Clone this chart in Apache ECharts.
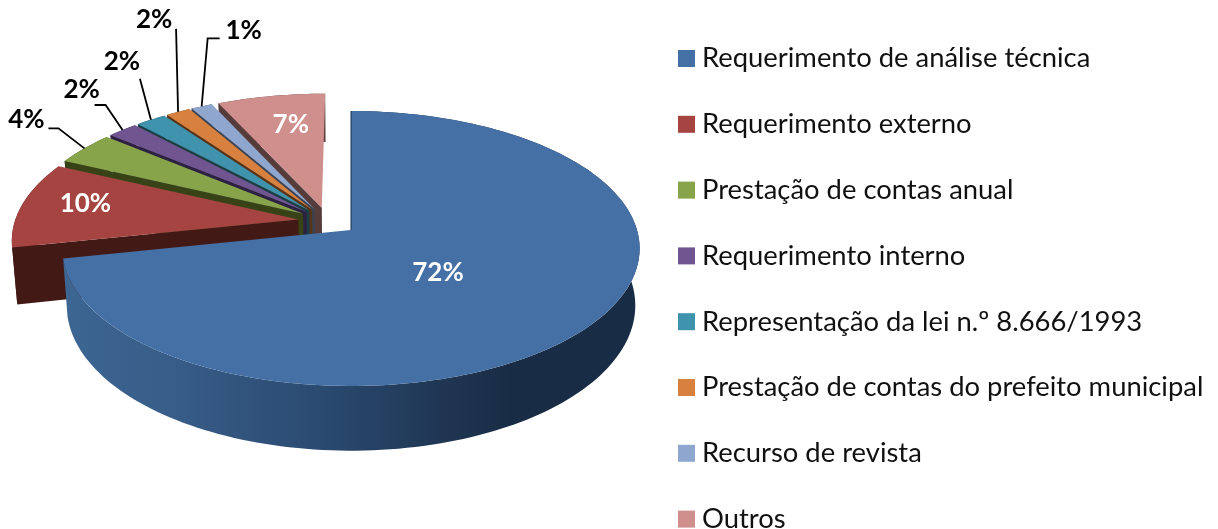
<!DOCTYPE html>
<html><head><meta charset="utf-8">
<style>html,body{margin:0;padding:0;background:#fff}#c{width:1218px;height:529px}</style>
<script src="https://cdn.jsdelivr.net/npm/echarts@6/dist/echarts.min.js"></script>
</head><body><div id="c"></div>
<script>
const categories = ['Requerimento de análise técnica','Requerimento externo','Prestação de contas anual','Requerimento interno','Representação da lei n.º 8.666/1993','Prestação de contas do prefeito municipal','Recurso de revista','Outros'];
const values = [71.7,10.3,4,2,2,1.6,1.4,7];
const colors = ['#4570A5','#A54441','#87A44B','#705591','#3F93AD','#D8813E','#8FA6CE','#CE8F8D'];
const wallColors = ['#1A2D47','#431915','#374317','#2D2040','#1A3D46','#583316','#3A4355','#553C3A'];
const zOrder = [10,9,8,7,6,5,4,3];

// perspective disc
const P = {cx:351, cy:230, A:286, B:135, k:0.1345, explode:0.105, depth:56, shrink:0.985};
const total = values.reduce((a,b)=>a+b,0);
const blueMid = (values[0]/2)/total*2*Math.PI;
const C = [-P.explode*Math.sin(blueMid), P.explode*Math.cos(blueMid)];
function dir(t){return [Math.sin(t),-Math.cos(t)];}
function proj(u,v,low){
  const w = 1-P.k*v;
  let x = P.A*u/w, y = P.B*v/w;
  if(low){ x*=P.shrink; y+=P.depth/w; }
  return [P.cx+x, P.cy+y];
}
// per-slice label placement, px relative to apex (inside) or rim (leader)
const inside = {0:[87,43],1:[-213,-16],7:[-31,-83]};
const leaders = {
  2:{line:[[-26,-20],[-36,-20]],text:[-58,-29]},
  3:{line:[[-17,-25],[-28,-25]],text:[-41,-40]},
  4:{line:[[-11,-41]],text:[-29,-58]},
  5:{line:[[-2,-83]],text:[-24,-92]},
  6:{line:[[6,-68],[18,-68]],text:[42,-76]}
};
const FONT = 'Lato, sans-serif';
function makeRender(i){
  return function(params, api){
    const val = api.value(0);
    let before = 0; for(let j=0;j<i;j++) before+=values[j];
    const t0 = before/total*2*Math.PI, t1 = (before+val)/total*2*Math.PI, mid=(t0+t1)/2;
    const md = dir(mid);
    const ax = C[0]+P.explode*md[0], ay = C[1]+P.explode*md[1];
    const top=[], low=[];
    const n = Math.max(2,Math.ceil((t1-t0)/(Math.PI/120)));
    for(let s=0;s<=n;s++){
      const d = dir(t0+(t1-t0)*s/n);
      top.push(proj(ax+d[0],ay+d[1],false));
      low.push(proj(ax+d[0],ay+d[1],true));
    }
    const apexT = proj(ax,ay,false), apexL = proj(ax,ay,true);
    const ch = [];
    const wallFill = i===0 ? {type:'linear',x:0,y:0,x2:1,y2:0,colorStops:[
      {offset:0,color:'#3D6693'},{offset:0.2,color:'#375C87'},{offset:0.45,color:'#2A4A70'},{offset:0.68,color:'#1E3450'},{offset:0.78,color:'#192C45'},{offset:1,color:'#192C45'}]} : wallColors[i];
    ch.push({type:'polygon',shape:{points:[apexT,top[0],low[0],apexL]},style:{fill:wallColors[i]}});
    ch.push({type:'polygon',shape:{points:top.concat(low.slice().reverse())},style:{fill:wallFill}});
    ch.push({type:'polygon',shape:{points:[apexT].concat(top)},style:{fill:colors[i]}});
    if(i===0){
      ch.push({type:'polyline',shape:{points:[apexT,top[0]]},style:{stroke:'#1A2D47',lineWidth:1,fill:'none'}});
    }
    const txt = Math.round(val)+'%';
    if(inside[i]){
      ch.push({type:'text',style:{text:txt,x:apexT[0]+inside[i][0],y:apexT[1]+inside[i][1],fill:'#fff',font:'bold 26px '+FONT,textAlign:'center',textVerticalAlign:'middle'}});
    } else {
      const L = leaders[i];
      const rim = proj(ax+md[0],ay+md[1],false);
      const pts=[rim].concat(L.line.map(o=>[rim[0]+o[0],rim[1]+o[1]]));
      ch.push({type:'polyline',shape:{points:pts},style:{stroke:'#000',lineWidth:1.8,fill:'none'}});
      ch.push({type:'text',style:{text:txt,x:rim[0]+L.text[0],y:rim[1]+L.text[1],fill:'#000',font:'bold 26px '+FONT,textAlign:'center',textVerticalAlign:'middle'}});
    }
    return {type:'group',children:ch};
  };
}
const chart = echarts.init(document.getElementById('c'),null,{renderer:'canvas'});
chart.setOption({
  animation:false,
  backgroundColor:'#fff',
  legend:{
    data:categories, orient:'vertical', left:678, top:45, height:600, icon:'rect',
    itemWidth:17,itemHeight:17,itemGap:38.8,
    selectedMode:false,
    textStyle:{fontFamily:FONT,fontSize:27.4,color:'#111',padding:[0,0,0,2]},
    padding:0
  },
  series:categories.map((name,i)=>({
    type:'custom',name,coordinateSystem:'none',z:zOrder[i],silent:true,
    itemStyle:{color:colors[i]},
    data:[values[i]],
    renderItem:makeRender(i)
  }))
});
</script></body></html>
